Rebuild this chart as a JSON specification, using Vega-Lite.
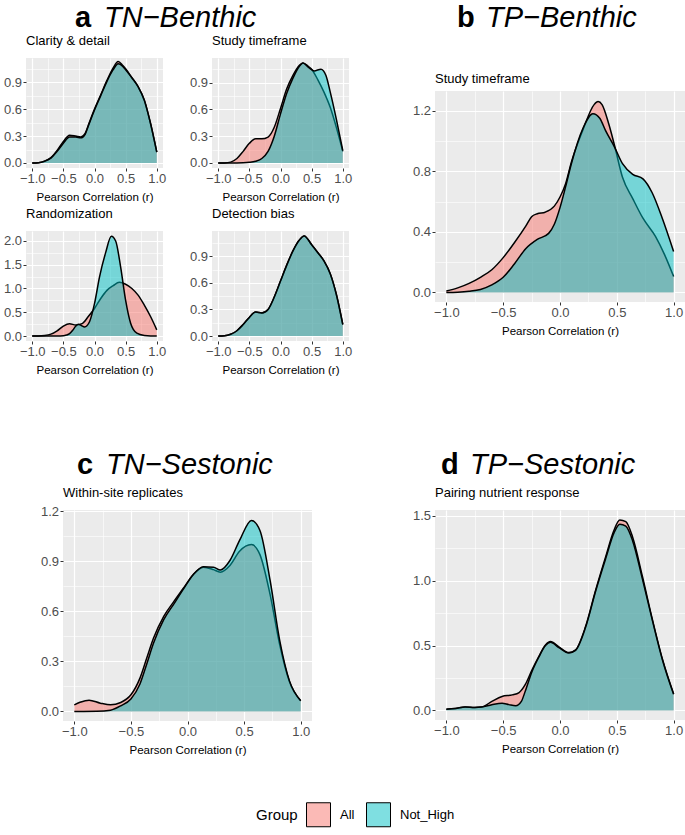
{
"$schema": "https://vega.github.io/schema/vega-lite/v6.json",
"padding": {"left": 0, "top": 4, "right": 0, "bottom": 0},
"background": "white",
"config": {
  "font": "Liberation Sans",
  "view": {"fill": "#EBEBEB", "stroke": null},
  "range": {"category": ["rgba(248,118,109,0.5)", "rgba(0,191,196,0.5)"]},
  "axis": {"domain": false, "tickColor": "#333333", "tickSize": 3, "tickWidth": 1, "labelColor": "#4D4D4D", "labelFontSize": 13, "labelFont": "Liberation Sans", "titleFont": "Liberation Sans", "titleFontSize": 11.5, "titleFontWeight": "normal", "titleColor": "black", "gridColor": "white", "labelFlush": false, "labelOverlap": false},
  "axisX": {"labelPadding": 1, "titlePadding": 6},
  "axisY": {"labelPadding": 1.5},
  "title": {"font": "Liberation Sans", "fontSize": 13, "fontWeight": "normal", "anchor": "start", "frame": "group", "color": "black", "offset": 10},
  "legend": {"orient": "none", "legendX": 230, "legendY": 744, "direction": "horizontal", "titleOrient": "left", "titleFontSize": 15, "titleFontWeight": "normal", "titleColor": "black", "titleFont": "Liberation Sans", "labelFont": "Liberation Sans", "labelFontSize": 13, "labelColor": "black", "symbolType": "square", "symbolSize": 576, "symbolStrokeColor": "black", "symbolStrokeWidth": 1, "labelOffset": 9, "columnPadding": 9, "titlePadding": 8, "symbolOpacity": 1}
},
"data": {"values": [
{"p":"ca","g":"All","r":-1,"d":0},{"p":"ca","g":"All","r":-0.9,"d":0.003},{"p":"ca","g":"All","r":-0.8,"d":0.02},{"p":"ca","g":"All","r":-0.7,"d":0.06},{"p":"ca","g":"All","r":-0.6,"d":0.14},{"p":"ca","g":"All","r":-0.5,"d":0.24},{"p":"ca","g":"All","r":-0.4,"d":0.31},{"p":"ca","g":"All","r":-0.3,"d":0.30},{"p":"ca","g":"All","r":-0.22,"d":0.29},{"p":"ca","g":"All","r":-0.15,"d":0.33},{"p":"ca","g":"All","r":-0.1,"d":0.42},{"p":"ca","g":"All","r":0,"d":0.60},{"p":"ca","g":"All","r":0.1,"d":0.76},{"p":"ca","g":"All","r":0.2,"d":0.92},{"p":"ca","g":"All","r":0.3,"d":1.06},{"p":"ca","g":"All","r":0.38,"d":1.13},{"p":"ca","g":"All","r":0.45,"d":1.09},{"p":"ca","g":"All","r":0.5,"d":1.05},{"p":"ca","g":"All","r":0.6,"d":0.95},{"p":"ca","g":"All","r":0.7,"d":0.85},{"p":"ca","g":"All","r":0.8,"d":0.70},{"p":"ca","g":"All","r":0.9,"d":0.44},{"p":"ca","g":"All","r":1,"d":0.12},
{"p":"ca","g":"Not_High","r":-1,"d":0},{"p":"ca","g":"Not_High","r":-0.9,"d":0.003},{"p":"ca","g":"Not_High","r":-0.8,"d":0.02},{"p":"ca","g":"Not_High","r":-0.7,"d":0.055},{"p":"ca","g":"Not_High","r":-0.6,"d":0.13},{"p":"ca","g":"Not_High","r":-0.5,"d":0.22},{"p":"ca","g":"Not_High","r":-0.4,"d":0.29},{"p":"ca","g":"Not_High","r":-0.3,"d":0.29},{"p":"ca","g":"Not_High","r":-0.22,"d":0.28},{"p":"ca","g":"Not_High","r":-0.15,"d":0.32},{"p":"ca","g":"Not_High","r":-0.1,"d":0.41},{"p":"ca","g":"Not_High","r":0,"d":0.59},{"p":"ca","g":"Not_High","r":0.1,"d":0.75},{"p":"ca","g":"Not_High","r":0.2,"d":0.91},{"p":"ca","g":"Not_High","r":0.3,"d":1.04},{"p":"ca","g":"Not_High","r":0.38,"d":1.105},{"p":"ca","g":"Not_High","r":0.45,"d":1.08},{"p":"ca","g":"Not_High","r":0.5,"d":1.04},{"p":"ca","g":"Not_High","r":0.6,"d":0.95},{"p":"ca","g":"Not_High","r":0.7,"d":0.85},{"p":"ca","g":"Not_High","r":0.8,"d":0.70},{"p":"ca","g":"Not_High","r":0.9,"d":0.44},{"p":"ca","g":"Not_High","r":1,"d":0.12},
{"p":"sa","g":"All","r":-1,"d":0},{"p":"sa","g":"All","r":-0.9,"d":0.001},{"p":"sa","g":"All","r":-0.8,"d":0.01},{"p":"sa","g":"All","r":-0.7,"d":0.05},{"p":"sa","g":"All","r":-0.6,"d":0.13},{"p":"sa","g":"All","r":-0.5,"d":0.22},{"p":"sa","g":"All","r":-0.4,"d":0.27},{"p":"sa","g":"All","r":-0.3,"d":0.27},{"p":"sa","g":"All","r":-0.2,"d":0.29},{"p":"sa","g":"All","r":-0.1,"d":0.40},{"p":"sa","g":"All","r":0,"d":0.61},{"p":"sa","g":"All","r":0.1,"d":0.83},{"p":"sa","g":"All","r":0.2,"d":0.98},{"p":"sa","g":"All","r":0.3,"d":1.09},{"p":"sa","g":"All","r":0.36,"d":1.12},{"p":"sa","g":"All","r":0.45,"d":1.08},{"p":"sa","g":"All","r":0.5,"d":1.05},{"p":"sa","g":"All","r":0.6,"d":0.93},{"p":"sa","g":"All","r":0.7,"d":0.79},{"p":"sa","g":"All","r":0.8,"d":0.62},{"p":"sa","g":"All","r":0.9,"d":0.39},{"p":"sa","g":"All","r":1,"d":0.13},
{"p":"sa","g":"Not_High","r":-1,"d":0},{"p":"sa","g":"Not_High","r":-0.8,"d":0},{"p":"sa","g":"Not_High","r":-0.6,"d":0.003},{"p":"sa","g":"Not_High","r":-0.5,"d":0.008},{"p":"sa","g":"Not_High","r":-0.4,"d":0.02},{"p":"sa","g":"Not_High","r":-0.3,"d":0.05},{"p":"sa","g":"Not_High","r":-0.2,"d":0.13},{"p":"sa","g":"Not_High","r":-0.1,"d":0.30},{"p":"sa","g":"Not_High","r":0,"d":0.55},{"p":"sa","g":"Not_High","r":0.1,"d":0.78},{"p":"sa","g":"Not_High","r":0.2,"d":0.95},{"p":"sa","g":"Not_High","r":0.3,"d":1.08},{"p":"sa","g":"Not_High","r":0.36,"d":1.12},{"p":"sa","g":"Not_High","r":0.45,"d":1.07},{"p":"sa","g":"Not_High","r":0.54,"d":1.03},{"p":"sa","g":"Not_High","r":0.65,"d":1.05},{"p":"sa","g":"Not_High","r":0.73,"d":0.98},{"p":"sa","g":"Not_High","r":0.8,"d":0.79},{"p":"sa","g":"Not_High","r":0.9,"d":0.48},{"p":"sa","g":"Not_High","r":1,"d":0.14},
{"p":"ra","g":"All","r":-1,"d":0},{"p":"ra","g":"All","r":-0.9,"d":0},{"p":"ra","g":"All","r":-0.8,"d":0.01},{"p":"ra","g":"All","r":-0.7,"d":0.04},{"p":"ra","g":"All","r":-0.6,"d":0.11},{"p":"ra","g":"All","r":-0.5,"d":0.21},{"p":"ra","g":"All","r":-0.4,"d":0.26},{"p":"ra","g":"All","r":-0.3,"d":0.23},{"p":"ra","g":"All","r":-0.2,"d":0.26},{"p":"ra","g":"All","r":-0.1,"d":0.41},{"p":"ra","g":"All","r":0,"d":0.58},{"p":"ra","g":"All","r":0.1,"d":0.79},{"p":"ra","g":"All","r":0.2,"d":0.96},{"p":"ra","g":"All","r":0.3,"d":1.06},{"p":"ra","g":"All","r":0.4,"d":1.13},{"p":"ra","g":"All","r":0.5,"d":1.09},{"p":"ra","g":"All","r":0.6,"d":1.0},{"p":"ra","g":"All","r":0.7,"d":0.86},{"p":"ra","g":"All","r":0.8,"d":0.65},{"p":"ra","g":"All","r":0.9,"d":0.41},{"p":"ra","g":"All","r":1,"d":0.13},
{"p":"ra","g":"Not_High","r":-1,"d":0},{"p":"ra","g":"Not_High","r":-0.8,"d":0},{"p":"ra","g":"Not_High","r":-0.6,"d":0.001},{"p":"ra","g":"Not_High","r":-0.5,"d":0.005},{"p":"ra","g":"Not_High","r":-0.45,"d":0.02},{"p":"ra","g":"Not_High","r":-0.4,"d":0.05},{"p":"ra","g":"Not_High","r":-0.35,"d":0.12},{"p":"ra","g":"Not_High","r":-0.3,"d":0.21},{"p":"ra","g":"Not_High","r":-0.26,"d":0.25},{"p":"ra","g":"Not_High","r":-0.21,"d":0.22},{"p":"ra","g":"Not_High","r":-0.16,"d":0.19},{"p":"ra","g":"Not_High","r":-0.08,"d":0.30},{"p":"ra","g":"Not_High","r":0,"d":0.68},{"p":"ra","g":"Not_High","r":0.08,"d":1.24},{"p":"ra","g":"Not_High","r":0.18,"d":1.76},{"p":"ra","g":"Not_High","r":0.27,"d":2.10},{"p":"ra","g":"Not_High","r":0.34,"d":2.0},{"p":"ra","g":"Not_High","r":0.42,"d":1.45},{"p":"ra","g":"Not_High","r":0.5,"d":0.75},{"p":"ra","g":"Not_High","r":0.58,"d":0.27},{"p":"ra","g":"Not_High","r":0.68,"d":0.06},{"p":"ra","g":"Not_High","r":0.8,"d":0.01},{"p":"ra","g":"Not_High","r":0.9,"d":0},{"p":"ra","g":"Not_High","r":1,"d":0},
{"p":"db","g":"All","r":-1,"d":0},{"p":"db","g":"All","r":-0.9,"d":0.003},{"p":"db","g":"All","r":-0.8,"d":0.02},{"p":"db","g":"All","r":-0.7,"d":0.06},{"p":"db","g":"All","r":-0.6,"d":0.13},{"p":"db","g":"All","r":-0.5,"d":0.21},{"p":"db","g":"All","r":-0.4,"d":0.27},{"p":"db","g":"All","r":-0.3,"d":0.26},{"p":"db","g":"All","r":-0.2,"d":0.30},{"p":"db","g":"All","r":-0.1,"d":0.44},{"p":"db","g":"All","r":0,"d":0.62},{"p":"db","g":"All","r":0.1,"d":0.80},{"p":"db","g":"All","r":0.2,"d":0.96},{"p":"db","g":"All","r":0.3,"d":1.08},{"p":"db","g":"All","r":0.38,"d":1.13},{"p":"db","g":"All","r":0.5,"d":1.03},{"p":"db","g":"All","r":0.6,"d":0.94},{"p":"db","g":"All","r":0.7,"d":0.845},{"p":"db","g":"All","r":0.8,"d":0.70},{"p":"db","g":"All","r":0.9,"d":0.46},{"p":"db","g":"All","r":1,"d":0.13},
{"p":"db","g":"Not_High","r":-1,"d":0},{"p":"db","g":"Not_High","r":-0.9,"d":0.003},{"p":"db","g":"Not_High","r":-0.8,"d":0.02},{"p":"db","g":"Not_High","r":-0.7,"d":0.06},{"p":"db","g":"Not_High","r":-0.6,"d":0.13},{"p":"db","g":"Not_High","r":-0.5,"d":0.21},{"p":"db","g":"Not_High","r":-0.4,"d":0.27},{"p":"db","g":"Not_High","r":-0.3,"d":0.26},{"p":"db","g":"Not_High","r":-0.2,"d":0.30},{"p":"db","g":"Not_High","r":-0.1,"d":0.44},{"p":"db","g":"Not_High","r":0,"d":0.62},{"p":"db","g":"Not_High","r":0.1,"d":0.80},{"p":"db","g":"Not_High","r":0.2,"d":0.96},{"p":"db","g":"Not_High","r":0.3,"d":1.08},{"p":"db","g":"Not_High","r":0.38,"d":1.13},{"p":"db","g":"Not_High","r":0.5,"d":1.03},{"p":"db","g":"Not_High","r":0.6,"d":0.94},{"p":"db","g":"Not_High","r":0.7,"d":0.845},{"p":"db","g":"Not_High","r":0.8,"d":0.70},{"p":"db","g":"Not_High","r":0.9,"d":0.46},{"p":"db","g":"Not_High","r":1,"d":0.13},
{"p":"sb","g":"All","r":-1,"d":0.01},{"p":"sb","g":"All","r":-0.9,"d":0.03},{"p":"sb","g":"All","r":-0.8,"d":0.06},{"p":"sb","g":"All","r":-0.7,"d":0.10},{"p":"sb","g":"All","r":-0.6,"d":0.15},{"p":"sb","g":"All","r":-0.5,"d":0.23},{"p":"sb","g":"All","r":-0.4,"d":0.33},{"p":"sb","g":"All","r":-0.3,"d":0.44},{"p":"sb","g":"All","r":-0.25,"d":0.50},{"p":"sb","g":"All","r":-0.2,"d":0.52},{"p":"sb","g":"All","r":-0.13,"d":0.53},{"p":"sb","g":"All","r":-0.05,"d":0.57},{"p":"sb","g":"All","r":0,"d":0.63},{"p":"sb","g":"All","r":0.05,"d":0.72},{"p":"sb","g":"All","r":0.1,"d":0.86},{"p":"sb","g":"All","r":0.2,"d":1.07},{"p":"sb","g":"All","r":0.3,"d":1.24},{"p":"sb","g":"All","r":0.335,"d":1.26},{"p":"sb","g":"All","r":0.37,"d":1.24},{"p":"sb","g":"All","r":0.43,"d":1.11},{"p":"sb","g":"All","r":0.48,"d":0.97},{"p":"sb","g":"All","r":0.55,"d":0.76},{"p":"sb","g":"All","r":0.64,"d":0.62},{"p":"sb","g":"All","r":0.73,"d":0.49},{"p":"sb","g":"All","r":0.84,"d":0.37},{"p":"sb","g":"All","r":0.92,"d":0.25},{"p":"sb","g":"All","r":1,"d":0.105},
{"p":"sb","g":"Not_High","r":-1,"d":0},{"p":"sb","g":"Not_High","r":-0.9,"d":0.002},{"p":"sb","g":"Not_High","r":-0.8,"d":0.008},{"p":"sb","g":"Not_High","r":-0.7,"d":0.02},{"p":"sb","g":"Not_High","r":-0.6,"d":0.05},{"p":"sb","g":"Not_High","r":-0.5,"d":0.10},{"p":"sb","g":"Not_High","r":-0.4,"d":0.19},{"p":"sb","g":"Not_High","r":-0.3,"d":0.29},{"p":"sb","g":"Not_High","r":-0.2,"d":0.35},{"p":"sb","g":"Not_High","r":-0.1,"d":0.39},{"p":"sb","g":"Not_High","r":-0.05,"d":0.45},{"p":"sb","g":"Not_High","r":0,"d":0.56},{"p":"sb","g":"Not_High","r":0.05,"d":0.70},{"p":"sb","g":"Not_High","r":0.1,"d":0.85},{"p":"sb","g":"Not_High","r":0.2,"d":1.08},{"p":"sb","g":"Not_High","r":0.29,"d":1.18},{"p":"sb","g":"Not_High","r":0.35,"d":1.15},{"p":"sb","g":"Not_High","r":0.4,"d":1.07},{"p":"sb","g":"Not_High","r":0.48,"d":0.96},{"p":"sb","g":"Not_High","r":0.55,"d":0.85},{"p":"sb","g":"Not_High","r":0.64,"d":0.78},{"p":"sb","g":"Not_High","r":0.73,"d":0.75},{"p":"sb","g":"Not_High","r":0.81,"d":0.66},{"p":"sb","g":"Not_High","r":0.9,"d":0.49},{"p":"sb","g":"Not_High","r":1,"d":0.27},
{"p":"wr","g":"All","r":-1,"d":0.04},{"p":"wr","g":"All","r":-0.95,"d":0.055},{"p":"wr","g":"All","r":-0.87,"d":0.068},{"p":"wr","g":"All","r":-0.77,"d":0.05},{"p":"wr","g":"All","r":-0.68,"d":0.04},{"p":"wr","g":"All","r":-0.59,"d":0.054},{"p":"wr","g":"All","r":-0.5,"d":0.10},{"p":"wr","g":"All","r":-0.42,"d":0.20},{"p":"wr","g":"All","r":-0.36,"d":0.32},{"p":"wr","g":"All","r":-0.3,"d":0.44},{"p":"wr","g":"All","r":-0.21,"d":0.57},{"p":"wr","g":"All","r":-0.12,"d":0.66},{"p":"wr","g":"All","r":-0.035,"d":0.74},{"p":"wr","g":"All","r":0.05,"d":0.82},{"p":"wr","g":"All","r":0.14,"d":0.865},{"p":"wr","g":"All","r":0.23,"d":0.85},{"p":"wr","g":"All","r":0.29,"d":0.835},{"p":"wr","g":"All","r":0.375,"d":0.875},{"p":"wr","g":"All","r":0.46,"d":0.96},{"p":"wr","g":"All","r":0.565,"d":1.0},{"p":"wr","g":"All","r":0.64,"d":0.94},{"p":"wr","g":"All","r":0.73,"d":0.70},{"p":"wr","g":"All","r":0.815,"d":0.40},{"p":"wr","g":"All","r":0.9,"d":0.18},{"p":"wr","g":"All","r":1,"d":0.065},
{"p":"wr","g":"Not_High","r":-1,"d":0},{"p":"wr","g":"Not_High","r":-0.8,"d":0.001},{"p":"wr","g":"Not_High","r":-0.68,"d":0.008},{"p":"wr","g":"Not_High","r":-0.59,"d":0.034},{"p":"wr","g":"Not_High","r":-0.5,"d":0.075},{"p":"wr","g":"Not_High","r":-0.42,"d":0.165},{"p":"wr","g":"Not_High","r":-0.36,"d":0.285},{"p":"wr","g":"Not_High","r":-0.3,"d":0.41},{"p":"wr","g":"Not_High","r":-0.21,"d":0.55},{"p":"wr","g":"Not_High","r":-0.12,"d":0.645},{"p":"wr","g":"Not_High","r":-0.035,"d":0.735},{"p":"wr","g":"Not_High","r":0.05,"d":0.82},{"p":"wr","g":"Not_High","r":0.14,"d":0.868},{"p":"wr","g":"Not_High","r":0.23,"d":0.865},{"p":"wr","g":"Not_High","r":0.29,"d":0.848},{"p":"wr","g":"Not_High","r":0.375,"d":0.905},{"p":"wr","g":"Not_High","r":0.46,"d":1.025},{"p":"wr","g":"Not_High","r":0.565,"d":1.145},{"p":"wr","g":"Not_High","r":0.64,"d":1.085},{"p":"wr","g":"Not_High","r":0.73,"d":0.785},{"p":"wr","g":"Not_High","r":0.815,"d":0.425},{"p":"wr","g":"Not_High","r":0.9,"d":0.185},{"p":"wr","g":"Not_High","r":1,"d":0.065},
{"p":"pn","g":"All","r":-1,"d":0.01},{"p":"pn","g":"All","r":-0.92,"d":0.015},{"p":"pn","g":"All","r":-0.835,"d":0.026},{"p":"pn","g":"All","r":-0.75,"d":0.023},{"p":"pn","g":"All","r":-0.69,"d":0.026},{"p":"pn","g":"All","r":-0.6,"d":0.07},{"p":"pn","g":"All","r":-0.51,"d":0.108},{"p":"pn","g":"All","r":-0.42,"d":0.12},{"p":"pn","g":"All","r":-0.36,"d":0.138},{"p":"pn","g":"All","r":-0.305,"d":0.20},{"p":"pn","g":"All","r":-0.246,"d":0.313},{"p":"pn","g":"All","r":-0.187,"d":0.415},{"p":"pn","g":"All","r":-0.128,"d":0.505},{"p":"pn","g":"All","r":-0.084,"d":0.531},{"p":"pn","g":"All","r":-0.01,"d":0.49},{"p":"pn","g":"All","r":0.078,"d":0.446},{"p":"pn","g":"All","r":0.137,"d":0.467},{"p":"pn","g":"All","r":0.225,"d":0.646},{"p":"pn","g":"All","r":0.314,"d":0.928},{"p":"pn","g":"All","r":0.402,"d":1.185},{"p":"pn","g":"All","r":0.476,"d":1.39},{"p":"pn","g":"All","r":0.526,"d":1.467},{"p":"pn","g":"All","r":0.579,"d":1.454},{"p":"pn","g":"All","r":0.638,"d":1.338},{"p":"pn","g":"All","r":0.726,"d":1.03},{"p":"pn","g":"All","r":0.814,"d":0.697},{"p":"pn","g":"All","r":0.903,"d":0.39},{"p":"pn","g":"All","r":1,"d":0.126},
{"p":"pn","g":"Not_High","r":-1,"d":0.01},{"p":"pn","g":"Not_High","r":-0.92,"d":0.015},{"p":"pn","g":"Not_High","r":-0.835,"d":0.026},{"p":"pn","g":"Not_High","r":-0.75,"d":0.023},{"p":"pn","g":"Not_High","r":-0.69,"d":0.026},{"p":"pn","g":"Not_High","r":-0.6,"d":0.044},{"p":"pn","g":"Not_High","r":-0.51,"d":0.056},{"p":"pn","g":"Not_High","r":-0.45,"d":0.045},{"p":"pn","g":"Not_High","r":-0.39,"d":0.036},{"p":"pn","g":"Not_High","r":-0.34,"d":0.07},{"p":"pn","g":"Not_High","r":-0.305,"d":0.15},{"p":"pn","g":"Not_High","r":-0.246,"d":0.30},{"p":"pn","g":"Not_High","r":-0.187,"d":0.41},{"p":"pn","g":"Not_High","r":-0.128,"d":0.50},{"p":"pn","g":"Not_High","r":-0.084,"d":0.525},{"p":"pn","g":"Not_High","r":-0.01,"d":0.485},{"p":"pn","g":"Not_High","r":0.078,"d":0.443},{"p":"pn","g":"Not_High","r":0.137,"d":0.463},{"p":"pn","g":"Not_High","r":0.225,"d":0.64},{"p":"pn","g":"Not_High","r":0.314,"d":0.92},{"p":"pn","g":"Not_High","r":0.402,"d":1.17},{"p":"pn","g":"Not_High","r":0.476,"d":1.37},{"p":"pn","g":"Not_High","r":0.526,"d":1.435},{"p":"pn","g":"Not_High","r":0.579,"d":1.42},{"p":"pn","g":"Not_High","r":0.638,"d":1.31},{"p":"pn","g":"Not_High","r":0.726,"d":1.01},{"p":"pn","g":"Not_High","r":0.814,"d":0.69},{"p":"pn","g":"Not_High","r":0.903,"d":0.385},{"p":"pn","g":"Not_High","r":1,"d":0.125}
]},
"spacing": 75,
"vconcat": [
 {"hconcat": [
  {"title": {"text": "a", "subtitle": "\u200B\u2003TN\u2212Benthic", "fontSize": 29, "fontWeight": "bold", "color": "black", "subtitleFontSize": 29, "subtitleFontStyle": "italic", "subtitleFontWeight": "normal", "subtitleColor": "black", "subtitleFont": "Liberation Sans", "subtitlePadding": -29, "anchor": "start", "frame": "group", "dx": 49, "offset": 2},
   "spacing": 5,
   "vconcat": [
    {"spacing": 20, "hconcat": [
      {"title": "Clarity & detail", "width": 137, "height": 110, "transform": [{"filter": "datum.p == 'ca'"}],
       "encoding": {"x": {"field": "r", "type": "quantitative", "scale": {"domain": [-1.1, 1.1], "nice": false}, "axis": {"title": "Pearson Correlation (r)", "values": [-1,-0.75,-0.5,-0.25,0,0.25,0.5,0.75,1], "format": ".1f", "labelExpr": "round(datum.value*4)%2 != 0 ? '' : datum.label", "gridWidth": {"condition": {"test": "round(datum.value*4)%2 != 0", "value": 0.6}, "value": 1.2}, "tickOpacity": {"condition": {"test": "round(datum.value*4)%2 != 0", "value": 0}, "value": 1}}},
        "y": {"field": "d", "type": "quantitative", "scale": {"domain": [-0.056, 1.17], "nice": false, "zero": false}, "axis": {"title": null, "minExtent": 26, "values": [0,0.15,0.3,0.45,0.6,0.75,0.9,1.05], "format": ".1f", "labelExpr": "round(datum.value/0.15)%2 != 0 ? '' : datum.label", "gridWidth": {"condition": {"test": "round(datum.value/0.15)%2 != 0", "value": 0.6}, "value": 1.2}, "tickOpacity": {"condition": {"test": "round(datum.value/0.15)%2 != 0", "value": 0}, "value": 1}}}},
       "layer": [
        {"transform": [{"filter": "datum.g == 'All'"}], "mark": {"type": "area", "interpolate": "monotone", "opacity": 1}, "encoding": {"fill": {"field": "g", "type": "nominal", "title": "Group"}, "y2": {"datum": 0}}},
        {"transform": [{"filter": "datum.g == 'All'"}], "mark": {"type": "line", "interpolate": "monotone", "color": "black", "strokeWidth": 1.5}, "encoding": {}},
        {"transform": [{"filter": "datum.g == 'Not_High'"}], "mark": {"type": "area", "interpolate": "monotone", "opacity": 1}, "encoding": {"fill": {"field": "g", "type": "nominal", "title": "Group"}, "y2": {"datum": 0}}},
        {"transform": [{"filter": "datum.g == 'Not_High'"}], "mark": {"type": "line", "interpolate": "monotone", "color": "black", "strokeWidth": 1.5}, "encoding": {}}
       ]},
      {"title": "Study timeframe", "width": 137, "height": 110, "transform": [{"filter": "datum.p == 'sa'"}],
       "encoding": {"x": {"field": "r", "type": "quantitative", "scale": {"domain": [-1.1, 1.1], "nice": false}, "axis": {"title": "Pearson Correlation (r)", "values": [-1,-0.75,-0.5,-0.25,0,0.25,0.5,0.75,1], "format": ".1f", "labelExpr": "round(datum.value*4)%2 != 0 ? '' : datum.label", "gridWidth": {"condition": {"test": "round(datum.value*4)%2 != 0", "value": 0.6}, "value": 1.2}, "tickOpacity": {"condition": {"test": "round(datum.value*4)%2 != 0", "value": 0}, "value": 1}}},
        "y": {"field": "d", "type": "quantitative", "scale": {"domain": [-0.056, 1.175], "nice": false, "zero": false}, "axis": {"title": null, "minExtent": 26, "values": [0,0.15,0.3,0.45,0.6,0.75,0.9,1.05], "format": ".1f", "labelExpr": "round(datum.value/0.15)%2 != 0 ? '' : datum.label", "gridWidth": {"condition": {"test": "round(datum.value/0.15)%2 != 0", "value": 0.6}, "value": 1.2}, "tickOpacity": {"condition": {"test": "round(datum.value/0.15)%2 != 0", "value": 0}, "value": 1}}}},
       "layer": [
        {"transform": [{"filter": "datum.g == 'All'"}], "mark": {"type": "area", "interpolate": "monotone", "opacity": 1}, "encoding": {"fill": {"field": "g", "type": "nominal", "title": "Group"}, "y2": {"datum": 0}}},
        {"transform": [{"filter": "datum.g == 'All'"}], "mark": {"type": "line", "interpolate": "monotone", "color": "black", "strokeWidth": 1.5}, "encoding": {}},
        {"transform": [{"filter": "datum.g == 'Not_High'"}], "mark": {"type": "area", "interpolate": "monotone", "opacity": 1}, "encoding": {"fill": {"field": "g", "type": "nominal", "title": "Group"}, "y2": {"datum": 0}}},
        {"transform": [{"filter": "datum.g == 'Not_High'"}], "mark": {"type": "line", "interpolate": "monotone", "color": "black", "strokeWidth": 1.5}, "encoding": {}}
       ]}
    ]},
    {"spacing": 20, "hconcat": [
      {"title": "Randomization", "width": 137, "height": 110, "transform": [{"filter": "datum.p == 'ra'"}],
       "encoding": {"x": {"field": "r", "type": "quantitative", "scale": {"domain": [-1.1, 1.1], "nice": false}, "axis": {"title": "Pearson Correlation (r)", "values": [-1,-0.75,-0.5,-0.25,0,0.25,0.5,0.75,1], "format": ".1f", "labelExpr": "round(datum.value*4)%2 != 0 ? '' : datum.label", "gridWidth": {"condition": {"test": "round(datum.value*4)%2 != 0", "value": 0.6}, "value": 1.2}, "tickOpacity": {"condition": {"test": "round(datum.value*4)%2 != 0", "value": 0}, "value": 1}}},
        "y": {"field": "d", "type": "quantitative", "scale": {"domain": [-0.105, 2.21], "nice": false, "zero": false}, "axis": {"title": null, "minExtent": 26, "values": [0,0.25,0.5,0.75,1,1.25,1.5,1.75,2], "format": ".1f", "labelExpr": "round(datum.value*4)%2 != 0 ? '' : datum.label", "gridWidth": {"condition": {"test": "round(datum.value*4)%2 != 0", "value": 0.6}, "value": 1.2}, "tickOpacity": {"condition": {"test": "round(datum.value*4)%2 != 0", "value": 0}, "value": 1}}}},
       "layer": [
        {"transform": [{"filter": "datum.g == 'All'"}], "mark": {"type": "area", "interpolate": "monotone", "opacity": 1}, "encoding": {"fill": {"field": "g", "type": "nominal", "title": "Group"}, "y2": {"datum": 0}}},
        {"transform": [{"filter": "datum.g == 'All'"}], "mark": {"type": "line", "interpolate": "monotone", "color": "black", "strokeWidth": 1.5}, "encoding": {}},
        {"transform": [{"filter": "datum.g == 'Not_High'"}], "mark": {"type": "area", "interpolate": "monotone", "opacity": 1}, "encoding": {"fill": {"field": "g", "type": "nominal", "title": "Group"}, "y2": {"datum": 0}}},
        {"transform": [{"filter": "datum.g == 'Not_High'"}], "mark": {"type": "line", "interpolate": "monotone", "color": "black", "strokeWidth": 1.5}, "encoding": {}}
       ]},
      {"title": "Detection bias", "width": 137, "height": 110, "transform": [{"filter": "datum.p == 'db'"}],
       "encoding": {"x": {"field": "r", "type": "quantitative", "scale": {"domain": [-1.1, 1.1], "nice": false}, "axis": {"title": "Pearson Correlation (r)", "values": [-1,-0.75,-0.5,-0.25,0,0.25,0.5,0.75,1], "format": ".1f", "labelExpr": "round(datum.value*4)%2 != 0 ? '' : datum.label", "gridWidth": {"condition": {"test": "round(datum.value*4)%2 != 0", "value": 0.6}, "value": 1.2}, "tickOpacity": {"condition": {"test": "round(datum.value*4)%2 != 0", "value": 0}, "value": 1}}},
        "y": {"field": "d", "type": "quantitative", "scale": {"domain": [-0.056, 1.185], "nice": false, "zero": false}, "axis": {"title": null, "minExtent": 26, "values": [0,0.15,0.3,0.45,0.6,0.75,0.9,1.05], "format": ".1f", "labelExpr": "round(datum.value/0.15)%2 != 0 ? '' : datum.label", "gridWidth": {"condition": {"test": "round(datum.value/0.15)%2 != 0", "value": 0.6}, "value": 1.2}, "tickOpacity": {"condition": {"test": "round(datum.value/0.15)%2 != 0", "value": 0}, "value": 1}}}},
       "layer": [
        {"transform": [{"filter": "datum.g == 'All'"}], "mark": {"type": "area", "interpolate": "monotone", "opacity": 1}, "encoding": {"fill": {"field": "g", "type": "nominal", "title": "Group"}, "y2": {"datum": 0}}},
        {"transform": [{"filter": "datum.g == 'All'"}], "mark": {"type": "line", "interpolate": "monotone", "color": "black", "strokeWidth": 1.5}, "encoding": {}},
        {"transform": [{"filter": "datum.g == 'Not_High'"}], "mark": {"type": "area", "interpolate": "monotone", "opacity": 1}, "encoding": {"fill": {"field": "g", "type": "nominal", "title": "Group"}, "y2": {"datum": 0}}},
        {"transform": [{"filter": "datum.g == 'Not_High'"}], "mark": {"type": "line", "interpolate": "monotone", "color": "black", "strokeWidth": 1.5}, "encoding": {}}
       ]}
    ]}
   ]},
  {"title": {"text": "b", "subtitle": "\u200B\u2003TP\u2212Benthic", "fontSize": 29, "fontWeight": "bold", "color": "black", "subtitleFontSize": 29, "subtitleFontStyle": "italic", "subtitleFontWeight": "normal", "subtitleColor": "black", "subtitleFont": "Liberation Sans", "subtitlePadding": -29, "anchor": "start", "frame": "group", "dx": 22, "offset": 25},
   "spacing": 5,
   "vconcat": [
      {"width": 250, "height": 10, "data": {"values": []}, "mark": {"type": "rect", "opacity": 0}, "encoding": {}, "view": {"fill": null, "stroke": null}},
      {"title": {"text": "Study timeframe", "offset": 5}, "width": 250, "height": 211, "transform": [{"filter": "datum.p == 'sb'"}],
       "encoding": {"x": {"field": "r", "type": "quantitative", "scale": {"domain": [-1.1, 1.1], "nice": false}, "axis": {"title": "Pearson Correlation (r)", "values": [-1,-0.75,-0.5,-0.25,0,0.25,0.5,0.75,1], "format": ".1f", "labelExpr": "round(datum.value*4)%2 != 0 ? '' : datum.label", "gridWidth": {"condition": {"test": "round(datum.value*4)%2 != 0", "value": 0.6}, "value": 1.2}, "tickOpacity": {"condition": {"test": "round(datum.value*4)%2 != 0", "value": 0}, "value": 1}}},
        "y": {"field": "d", "type": "quantitative", "scale": {"domain": [-0.063, 1.33], "nice": false, "zero": false}, "axis": {"title": null, "minExtent": 26, "values": [0,0.2,0.4,0.6,0.8,1.0,1.2], "format": ".1f", "labelExpr": "round(datum.value*5)%2 != 0 ? '' : datum.label", "gridWidth": {"condition": {"test": "round(datum.value*5)%2 != 0", "value": 0.6}, "value": 1.2}, "tickOpacity": {"condition": {"test": "round(datum.value*5)%2 != 0", "value": 0}, "value": 1}}}},
       "layer": [
        {"transform": [{"filter": "datum.g == 'All'"}], "mark": {"type": "area", "interpolate": "monotone", "opacity": 1}, "encoding": {"fill": {"field": "g", "type": "nominal", "title": "Group"}, "y2": {"datum": 0}}},
        {"transform": [{"filter": "datum.g == 'All'"}], "mark": {"type": "line", "interpolate": "monotone", "color": "black", "strokeWidth": 1.5}, "encoding": {}},
        {"transform": [{"filter": "datum.g == 'Not_High'"}], "mark": {"type": "area", "interpolate": "monotone", "opacity": 1}, "encoding": {"fill": {"field": "g", "type": "nominal", "title": "Group"}, "y2": {"datum": 0}}},
        {"transform": [{"filter": "datum.g == 'Not_High'"}], "mark": {"type": "line", "interpolate": "monotone", "color": "black", "strokeWidth": 1.5}, "encoding": {}}
       ]}
   ]}
 ], "spacing": 57},
 {"spacing": 0, "hconcat": [
  {"width": 11, "height": 10, "data": {"values": []}, "mark": {"type": "rect", "opacity": 0}, "encoding": {}, "view": {"fill": null, "stroke": null}},
  {"spacing": 97, "hconcat": [
  {"title": {"text": "c", "subtitle": "\u200B\u2003TN\u2212Sestonic", "fontSize": 29, "fontWeight": "bold", "color": "black", "subtitleFontSize": 29, "subtitleFontStyle": "italic", "subtitleFontWeight": "normal", "subtitleColor": "black", "subtitleFont": "Liberation Sans", "subtitlePadding": -29, "anchor": "start", "frame": "group", "dx": 14, "offset": 7},
   "vconcat": [
      {"title": {"text": "Within-site replicates", "offset": 5}, "width": 249, "height": 211, "transform": [{"filter": "datum.p == 'wr'"}],
       "encoding": {"x": {"field": "r", "type": "quantitative", "scale": {"domain": [-1.1, 1.1], "nice": false}, "axis": {"title": "Pearson Correlation (r)", "values": [-1,-0.75,-0.5,-0.25,0,0.25,0.5,0.75,1], "format": ".1f", "labelExpr": "round(datum.value*4)%2 != 0 ? '' : datum.label", "gridWidth": {"condition": {"test": "round(datum.value*4)%2 != 0", "value": 0.6}, "value": 1.2}, "tickOpacity": {"condition": {"test": "round(datum.value*4)%2 != 0", "value": 0}, "value": 1}}},
        "y": {"field": "d", "type": "quantitative", "scale": {"domain": [-0.057, 1.2075], "nice": false, "zero": false}, "axis": {"title": null, "minExtent": 26, "values": [0,0.15,0.3,0.45,0.6,0.75,0.9,1.05,1.2], "format": ".1f", "labelExpr": "round(datum.value/0.15)%2 != 0 ? '' : datum.label", "gridWidth": {"condition": {"test": "round(datum.value/0.15)%2 != 0", "value": 0.6}, "value": 1.2}, "tickOpacity": {"condition": {"test": "round(datum.value/0.15)%2 != 0", "value": 0}, "value": 1}}}},
       "layer": [
        {"transform": [{"filter": "datum.g == 'All'"}], "mark": {"type": "area", "interpolate": "monotone", "opacity": 1}, "encoding": {"fill": {"field": "g", "type": "nominal", "title": "Group"}, "y2": {"datum": 0}}},
        {"transform": [{"filter": "datum.g == 'All'"}], "mark": {"type": "line", "interpolate": "monotone", "color": "black", "strokeWidth": 1.5}, "encoding": {}},
        {"transform": [{"filter": "datum.g == 'Not_High'"}], "mark": {"type": "area", "interpolate": "monotone", "opacity": 1}, "encoding": {"fill": {"field": "g", "type": "nominal", "title": "Group"}, "y2": {"datum": 0}}},
        {"transform": [{"filter": "datum.g == 'Not_High'"}], "mark": {"type": "line", "interpolate": "monotone", "color": "black", "strokeWidth": 1.5}, "encoding": {}}
       ]}
   ]},
  {"title": {"text": "d", "subtitle": "\u200B\u2003TP\u2212Sestonic", "fontSize": 29, "fontWeight": "bold", "color": "black", "subtitleFontSize": 29, "subtitleFontStyle": "italic", "subtitleFontWeight": "normal", "subtitleColor": "black", "subtitleFont": "Liberation Sans", "subtitlePadding": -29, "anchor": "start", "frame": "group", "dx": 6, "offset": 7},
   "vconcat": [
      {"title": {"text": "Pairing nutrient response", "offset": 9.5}, "width": 250, "height": 210, "transform": [{"filter": "datum.p == 'pn'"}],
       "encoding": {"x": {"field": "r", "type": "quantitative", "scale": {"domain": [-1.1, 1.1], "nice": false}, "axis": {"title": "Pearson Correlation (r)", "values": [-1,-0.75,-0.5,-0.25,0,0.25,0.5,0.75,1], "format": ".1f", "labelExpr": "round(datum.value*4)%2 != 0 ? '' : datum.label", "gridWidth": {"condition": {"test": "round(datum.value*4)%2 != 0", "value": 0.6}, "value": 1.2}, "tickOpacity": {"condition": {"test": "round(datum.value*4)%2 != 0", "value": 0}, "value": 1}}},
        "y": {"field": "d", "type": "quantitative", "scale": {"domain": [-0.0735, 1.544], "nice": false, "zero": false}, "axis": {"title": null, "minExtent": 26, "values": [0,0.25,0.5,0.75,1,1.25,1.5], "format": ".1f", "labelExpr": "round(datum.value*4)%2 != 0 ? '' : datum.label", "gridWidth": {"condition": {"test": "round(datum.value*4)%2 != 0", "value": 0.6}, "value": 1.2}, "tickOpacity": {"condition": {"test": "round(datum.value*4)%2 != 0", "value": 0}, "value": 1}}}},
       "layer": [
        {"transform": [{"filter": "datum.g == 'All'"}], "mark": {"type": "area", "interpolate": "monotone", "opacity": 1}, "encoding": {"fill": {"field": "g", "type": "nominal", "title": "Group"}, "y2": {"datum": 0}}},
        {"transform": [{"filter": "datum.g == 'All'"}], "mark": {"type": "line", "interpolate": "monotone", "color": "black", "strokeWidth": 1.5}, "encoding": {}},
        {"transform": [{"filter": "datum.g == 'Not_High'"}], "mark": {"type": "area", "interpolate": "monotone", "opacity": 1}, "encoding": {"fill": {"field": "g", "type": "nominal", "title": "Group"}, "y2": {"datum": 0}}},
        {"transform": [{"filter": "datum.g == 'Not_High'"}], "mark": {"type": "line", "interpolate": "monotone", "color": "black", "strokeWidth": 1.5}, "encoding": {}}
       ]}
   ]}
  ]}
 ]}
]
}
